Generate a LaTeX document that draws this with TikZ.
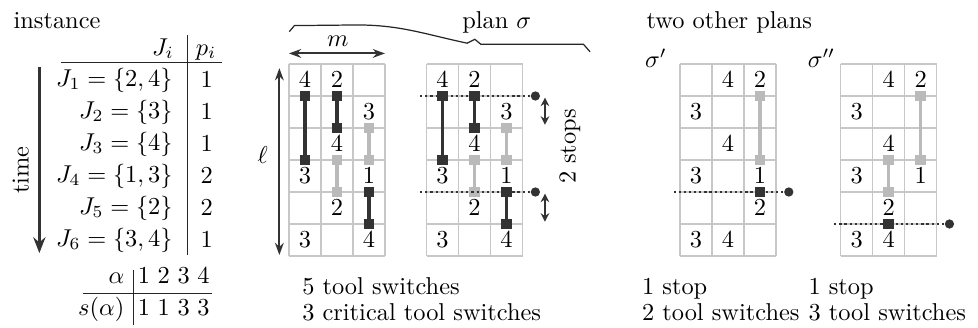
\documentclass[tikz,border=0pt]{standalone}
\usepackage{amsmath, amssymb}
\usetikzlibrary{arrows.meta}

\tikzset{
  cellgrid/.style={draw=black!22, line width=0.5pt},
  crit/.style={black!80},
  noncrit/.style={black!27},
  stopline/.style={black!80, line width=0.9pt, dash pattern=on 0.9pt off 1.2pt},
  dimarrow/.style={{Stealth[length=5pt,width=3.6pt]}-{Stealth[length=5pt,width=3.6pt]}, black!80, line width=0.8pt},
  stoparrow/.style={{Stealth[length=3.5pt,width=3.5pt]}-{Stealth[length=3.5pt,width=3.5pt]}, black!80, line width=0.8pt},
  timearrow/.style={-{Stealth[length=6.5pt,width=5pt]}, black!80, line width=1.3pt},
  rule/.style={black!85, line width=0.45pt},
  lbl/.style={inner sep=0pt},
}

% 3 slots x 6 jobs, numbers given as col/row/tool
\newcommand{\slotgrid}[1]{%
  \foreach \i in {0,...,3} \draw[cellgrid] (\i,-2) -- (\i,-8);
  \foreach \j in {2,...,8} \draw[cellgrid] (0,-\j) -- (3,-\j);
  \foreach \c/\r/\v in {#1}
    \node[lbl] (n\c\r) at (\c-0.5,-1.5-\r) {$\v$};
}
% tool kept in slot #2 from row boundary #3 to #4
\newcommand{\keeptool}[4]{%
  \draw[#1, line width=1.4pt] (#2-0.5,-2-#3) -- (#2-0.5,-2-#4);
  \foreach \b in {#3,#4}
    \fill[#1] (#2-0.5,-2-\b) +(-0.165,-0.165) rectangle +(0.165,0.165);
}
% machine stop after row boundary #1
\newcommand{\stopat}[1]{%
  \draw[stopline] (-0.2,-2-#1) -- (3.4,-2-#1);
  \fill[black!80] (3.4,-2-#1) circle (1.9pt);
}

\begin{document}
\begin{tikzpicture}[x=13.12pt, y=13.12pt]
  \useasboundingbox (0,0) rectangle (30.5625,-10.219);

  % instance table
  \node[lbl, anchor=base west] (inst) at (0.41,-0.9) {instance};
  \node[lbl, anchor=base] (Jhead) at (5.09,-1.72) {$J_i$};
  \node[lbl, anchor=base] (phead) at (6.44,-1.72) {$p_i$};
  \draw[rule] (1.9,-1.96) -- (6.94,-1.96);
  \draw[rule] (5.87,-1.09) -- (5.87,-7.97);
  \foreach \r/\J/\p in {1/{2,4}/1, 2/3/1, 3/4/1, 4/{1,3}/2, 5/2/2, 6/{3,4}/1} {
    \node[lbl, anchor=east] (J\r) at (5.41,-1.5-\r) {$J_\r=\{\J\}$};
    \node[lbl] (p\r) at (6.46,-1.5-\r) {$\p$};
  }
  \draw[timearrow] (1.23,-2.08) -- (1.23,-7.91);
  \node[lbl, rotate=90] (time) at (0.65,-5.31) {time};

  % tool sizes
  \node[lbl, anchor=base east] (alpha) at (3.9,-8.85) {$\alpha$};
  \node[lbl, anchor=base east] (salpha) at (3.9,-9.87) {$s(\alpha)$};
  \foreach \k/\s in {1/1, 2/1, 3/3, 4/3} {
    \node[lbl, anchor=base] (a\k) at (3.88+0.62*\k,-8.85) {$\k$};
    \node[lbl, anchor=base] (s\k) at (3.88+0.62*\k,-9.87) {$\s$};
  }
  \draw[rule] (2.6,-9.16) -- (6.63,-9.16);
  \draw[rule] (4.16,-8.44) -- (4.16,-10.16);

  % plan sigma, dimensions
  \draw[dimarrow] (9.03,-1.67) -- (12.03,-1.67);
  \node[lbl, anchor=base] (m) at (10.56,-1.46) {$m$};
  \draw[dimarrow] (8.73,-2.13) -- (8.73,-7.97);
  \node[lbl, anchor=base] (ell) at (8.21,-5.1) {$\ell$};
  \draw[black!85, line width=0.5pt] (9.04,-0.99) -- (9.2,-0.8) -- (11.15,-0.78)
       to[out=0,in=168] (14.6,-1.35) -- (14.84,-1.23) -- (15.02,-1.38)
       -- (18.23,-1.38) -- (18.44,-1.62);
  \node[lbl, anchor=base west] (plan) at (14.43,-0.9) {plan $\sigma$};

  \begin{scope}[shift={(9.03,0)}, name prefix=planA-]
    \slotgrid{1/1/4, 1/4/3, 1/6/3, 2/1/2, 2/3/4, 2/5/2, 3/2/3, 3/4/1, 3/6/4}
    \keeptool{noncrit}{2}{3}{4}
    \keeptool{noncrit}{3}{2}{3}
    \keeptool{crit}{1}{1}{3}
    \keeptool{crit}{2}{1}{2}
    \keeptool{crit}{3}{4}{5}
  \end{scope}

  \begin{scope}[shift={(13.33,0)}, name prefix=planB-]
    \slotgrid{1/1/4, 1/4/3, 1/6/3, 2/1/2, 2/3/4, 2/5/2, 3/2/3, 3/4/1, 3/6/4}
    \keeptool{noncrit}{2}{3}{4}
    \keeptool{noncrit}{3}{2}{3}
    \stopat{1}
    \stopat{4}
    \keeptool{crit}{1}{1}{3}
    \keeptool{crit}{2}{1}{2}
    \keeptool{crit}{3}{4}{5}
    \draw[stoparrow] (3.7,-3.05) -- (3.7,-3.9);
    \draw[stoparrow] (3.7,-6.05) -- (3.7,-6.93);
    \node[lbl, rotate=90] (stops) at (4.48,-4.58) {2 stops};
  \end{scope}

  \node[lbl, anchor=base west] (sum) at (9.43,-9.19) {5 tool switches};
  \node[lbl, anchor=base west] (crit) at (9.43,-10.03) {3 critical tool switches};

  % two other plans
  \node[lbl, anchor=base west] (other) at (20.19,-0.9) {two other plans};
  \node[lbl, anchor=base] (sig1) at (20.5,-2.11) {$\sigma'$};
  \node[lbl, anchor=base] (sig2) at (25.67,-2.11) {$\sigma''$};

  \begin{scope}[shift={(21.25,0)}, name prefix=planC-]
    \slotgrid{2/1/4, 3/1/2, 1/2/3, 2/3/4, 1/4/3, 3/4/1, 3/5/2, 1/6/3, 2/6/4}
    \keeptool{noncrit}{3}{1}{3}
    \stopat{4}
    \fill[crit] (2.5,-6) +(-0.165,-0.165) rectangle +(0.165,0.165);
  \end{scope}

  \begin{scope}[shift={(26.27,0)}, name prefix=planD-]
    \slotgrid{2/1/4, 3/1/2, 1/2/3, 2/3/4, 1/4/3, 3/4/1, 2/5/2, 1/6/3, 2/6/4}
    \keeptool{noncrit}{3}{1}{3}
    \keeptool{noncrit}{2}{3}{4}
    \stopat{5}
    \fill[crit] (1.5,-7) +(-0.165,-0.165) rectangle +(0.165,0.165);
  \end{scope}

  \node[lbl, anchor=base west] (stop1) at (20.05,-9.19) {1 stop};
  \node[lbl, anchor=base west] (sw1) at (20.05,-10.03) {2 tool switches};
  \node[lbl, anchor=base west] (stop2) at (25.25,-9.19) {1 stop};
  \node[lbl, anchor=base west] (sw2) at (25.25,-10.03) {3 tool switches};
\end{tikzpicture}
\end{document}
